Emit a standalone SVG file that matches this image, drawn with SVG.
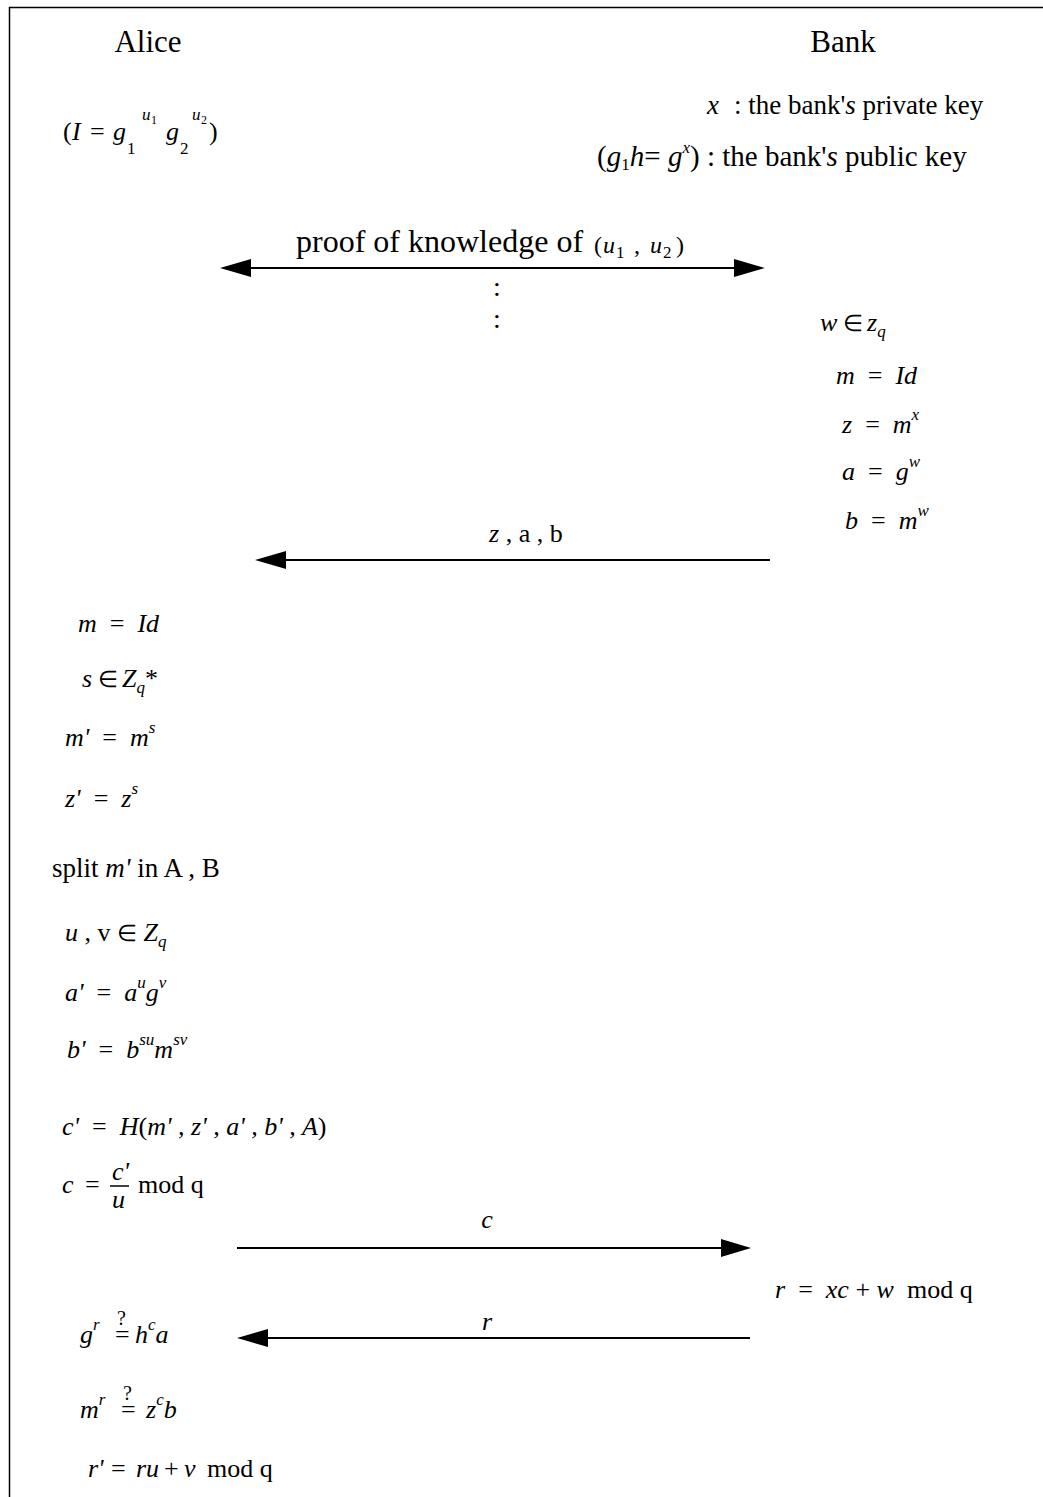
<svg xmlns="http://www.w3.org/2000/svg" width="1043" height="1497" viewBox="0 0 1043 1497">
<style>
text{font-family:"Liberation Serif","Times New Roman",serif;font-size:26px;fill:#000}
.title{font-size:31px}
.up{font-size:27px}
.i{font-style:italic}
.n{font-style:normal}
.s{font-size:17px}
.ss{font-size:12px}
.el{font-size:23px}
.q{font-size:20px}
.ln{stroke:#000;stroke-width:2;fill:none}
.ah{fill:#000}
</style>
<rect x="9.5" y="7.5" width="1050" height="1500" fill="#fff" stroke="#000" stroke-width="1.5"/>

<g id="alice-title"><text class="title" x="148" y="52" text-anchor="middle">Alice</text></g>
<g id="bank-title"><text class="title" x="843" y="52" text-anchor="middle">Bank</text></g>

<g id="alice-identity">
<text y="140"><tspan x="63">(</tspan><tspan class="i" x="72">I</tspan><tspan x="90">=</tspan><tspan class="i" x="113">g</tspan></text>
<text class="s" x="127" y="154">1</text>
<text class="s i" x="142" y="120">u</text><text class="ss" x="151" y="124">1</text>
<text class="i" x="166" y="140">g</text>
<text class="s" x="180" y="154">2</text>
<text class="s i" x="192" y="120">u</text><text class="ss" x="201" y="124">2</text>
<text x="209" y="140">)</text>
</g>

<g id="bank-keys">
<text class="up" y="114"><tspan class="i" x="707">x</tspan><tspan x="734">: the bank'</tspan><tspan class="i">s</tspan> private key</text>
<text style="font-size:29px" y="166"><tspan x="597">(</tspan><tspan class="i">g</tspan><tspan class="s" dy="4">1</tspan><tspan class="i" dy="-4">h</tspan>=<tspan class="i" x="668">g</tspan><tspan class="s i" dy="-13">x</tspan><tspan dy="13">) : the bank'</tspan><tspan class="i">s</tspan> public key</text>
</g>

<g id="proof">
<text x="296" y="252" style="font-size:32px">proof of knowledge of</text>
<text y="253" style="font-size:24px"><tspan x="594">(</tspan><tspan class="i" x="603">u</tspan><tspan class="s" x="616" dy="5">1</tspan><tspan x="634" dy="-5">,</tspan><tspan class="i" x="650">u</tspan><tspan class="s" x="663" dy="5">2</tspan><tspan x="676" dy="-5">)</tspan></text>
<text x="497" y="296" text-anchor="middle" style="font-size:28px">:</text>
<text x="497" y="328" text-anchor="middle" style="font-size:28px">:</text>
</g>

<g id="bank-compute">
<text y="331"><tspan class="i" x="820">w</tspan><tspan class="el" x="843">∈</tspan><tspan class="i" x="867">z</tspan><tspan class="s i" dy="6">q</tspan></text>
<text x="836" y="384" class="i">m&#8194;<tspan class="n">=</tspan>&#8194;Id</text>
<text x="842" y="433" class="i">z&#8194;<tspan class="n">=</tspan>&#8194;m<tspan class="s" dy="-13">x</tspan></text>
<text x="842" y="480" class="i">a&#8194;<tspan class="n">=</tspan>&#8194;g<tspan class="s" dy="-13">w</tspan></text>
<text x="845" y="529" class="i">b&#8194;<tspan class="n">=</tspan>&#8194;m<tspan class="s" dy="-13">w</tspan></text>
</g>

<g id="alice-compute">
<text x="78" y="632" class="i">m&#8194;<tspan class="n">=</tspan>&#8194;Id</text>
<text y="687"><tspan class="i" x="82">s</tspan><tspan class="el" x="98">∈</tspan><tspan class="i" x="122">Z</tspan><tspan class="s i" dy="6">q</tspan><tspan dy="-6">*</tspan></text>
<text x="65" y="746" class="i">m'&#8194;<tspan class="n">=</tspan>&#8194;m<tspan class="s" dy="-13">s</tspan></text>
<text x="65" y="807" class="i">z'&#8194;<tspan class="n">=</tspan>&#8194;z<tspan class="s" dy="-13">s</tspan></text>
<text class="up" x="52" y="877">split <tspan class="i">m'</tspan> in A , B</text>
<text y="941"><tspan class="i" x="65">u</tspan> , v <tspan class="el">∈</tspan> <tspan class="i">Z</tspan><tspan class="s i" dy="6">q</tspan></text>
<text x="65" y="1001" class="i">a'&#8194;<tspan class="n">=</tspan>&#8194;a<tspan class="s" dy="-13">u</tspan><tspan dy="13">g</tspan><tspan class="s" dy="-13">v</tspan></text>
<text x="67" y="1058" class="i">b'&#8194;<tspan class="n">=</tspan>&#8194;b<tspan class="s" dy="-13">su</tspan><tspan dy="13">m</tspan><tspan class="s" dy="-13">sv</tspan></text>
<text x="62" y="1135" class="i">c'&#8194;<tspan class="n">=</tspan>&#8194;H<tspan class="n">(</tspan>m' , z' , a' , b' , A<tspan class="n">)</tspan></text>
<text y="1193"><tspan class="i" x="62">c</tspan><tspan x="85">=</tspan></text>
<text x="112" y="1180" class="i">c'</text>
<line x1="110" y1="1186" x2="129" y2="1186" stroke="#000" stroke-width="1.5"/>
<text x="112" y="1208" class="i">u</text>
<text x="138" y="1193">mod q</text>
</g>

<g id="bank-response">
<text x="775" y="1298"><tspan class="i">r</tspan>&#8194;=&#8194;<tspan class="i">xc</tspan> + <tspan class="i">w</tspan>&#8194;mod q</text>
</g>

<g id="alice-verify">
<text x="80" y="1343" class="i">g<tspan class="s" dy="-13">r</tspan></text>
<text><tspan class="q" x="117" y="1325">?</tspan><tspan x="115" y="1343">=</tspan></text>
<text x="135" y="1343" class="i">h<tspan class="s" dy="-13">c</tspan><tspan dy="13">a</tspan></text>
<text x="80" y="1418" class="i">m<tspan class="s" dy="-13">r</tspan></text>
<text><tspan class="q" x="123" y="1400">?</tspan><tspan x="121" y="1418">=</tspan></text>
<text x="146" y="1418" class="i">z<tspan class="s" dy="-13">c</tspan><tspan dy="13">b</tspan></text>
<text y="1477"><tspan class="i" x="88">r'</tspan><tspan x="111">=</tspan><tspan class="i" x="136">ru</tspan><tspan x="164">+</tspan><tspan class="i" x="184">v</tspan><tspan x="207">mod q</tspan></text>
</g>

<g id="connectors">
<line class="ln" x1="248" y1="268" x2="738" y2="268"/>
<polygon class="ah" points="220,268 251,259 251,277"/>
<polygon class="ah" points="765,268 734,259 734,277"/>

<line class="ln" x1="282" y1="560" x2="770" y2="560"/>
<polygon class="ah" points="255,560 286,551 286,569"/>
<text y="542"><tspan class="i" x="489">z</tspan> , a , b</text>

<line class="ln" x1="237" y1="1248" x2="724" y2="1248"/>
<polygon class="ah" points="751,1248 721,1239 721,1257"/>
<text x="487" y="1228" text-anchor="middle" class="i">c</text>

<line class="ln" x1="265" y1="1338" x2="750" y2="1338"/>
<polygon class="ah" points="237,1338 268,1329 268,1347"/>
<text x="487" y="1330" text-anchor="middle" class="i">r</text>
</g>
</svg>
